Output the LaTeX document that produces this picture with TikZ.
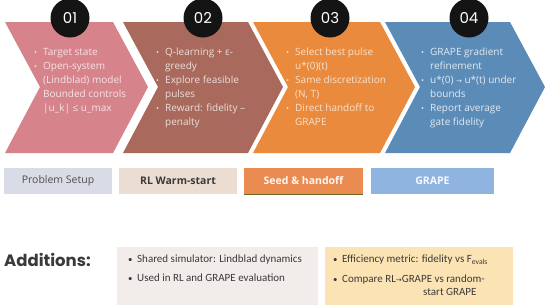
\documentclass[tikz,border=0pt]{standalone}
\usepackage{fontspec}
\setmainfont{Open Sans}
\newfontfamily\headfont{Poppins}
\newfontfamily\notefont{Carlito}
\newfontfamily\arrowfont{DejaVu Sans}

\definecolor{setuppink}{HTML}{D6838C}
\definecolor{rlbrown}{HTML}{A96A5D}
\definecolor{seedorange}{HTML}{E98A3D}
\definecolor{grapeblue}{HTML}{5B8CB7}
\definecolor{tagsetup}{HTML}{D9DCE6}
\definecolor{tagrl}{HTML}{ECDDD3}
\definecolor{tagseed}{HTML}{EA8B52}
\definecolor{taggrape}{HTML}{90B4E0}
\definecolor{notegrey}{HTML}{F2EDEA}
\definecolor{noteyellow}{HTML}{FCE3B4}
\definecolor{inkgrey}{HTML}{3A3A3A}

% bullet line and continuation line
\newcommand{\bline}[1]{\makebox[9pt][l]{\scalebox{0.8}{\textbullet}}#1}
\newcommand{\contline}[1]{\hspace*{9pt}#1}

\begin{document}
\begin{tikzpicture}[x=1pt, y=-1pt,
  numdot/.style={circle, fill=black!92, minimum size=39pt, inner sep=0pt, text=white,
    font=\headfont\fontsize{15}{15}\selectfont},
  chevtext/.style={anchor=north west, align=left, inner sep=0pt,
    font=\fontsize{10}{14}\selectfont},
  tagbox/.style={minimum width=#1, minimum height=26pt, inner sep=0pt,
    font=\fontsize{10.5}{12}\selectfont},
  notebox/.style={anchor=north west, minimum width=#1, minimum height=58pt, inner sep=0pt},
  notetext/.style={anchor=north west, align=left, inner sep=0pt, text=inkgrey,
    font=\notefont\fontsize{11}{19}\selectfont}]
  \useasboundingbox[fill=white] (0,0) rectangle (550,308);

  % Four chevrons (stage bands)
  \fill[setuppink] (5,22) -- (113,22) -- (148,87) -- (113,153) -- (5,153) -- (40,87) -- cycle;
  \fill[rlbrown] (123,22) -- (248,22) -- (283,87) -- (248,153) -- (123,153) -- (158,87) -- cycle;
  \fill[seedorange] (253,22) -- (380,22) -- (415,87) -- (380,153) -- (253,153) -- (288,87) -- cycle;
  \fill[grapeblue] (385,22) -- (510,22) -- (545,87) -- (510,153) -- (385,153) -- (420,87) -- cycle;

  % Step numbers
  \node[numdot] (n1) at (70,18) {01};
  \node[numdot] (n2) at (203,18) {02};
  \node[numdot] (n3) at (330,18) {03};
  \node[numdot] (n4) at (469,18) {04};

  % Bullet texts on the chevrons
  \node[chevtext, text=white!78!setuppink] (t1) at (34,48)
    {\bline{Target state}\\ \bline{Open-system}\\ \contline{(Lindblad) model}\\
     \bline{Bounded controls}\\ \contline{|u\_k| ≤ u\_max}};
  \node[chevtext, text=white!78!rlbrown] (t2) at (156,48)
    {\bline{Q-learning + ε-}\\ \contline{greedy}\\ \bline{Explore feasible}\\
     \contline{pulses}\\ \bline{Reward: fidelity –}\\ \contline{penalty}};
  \node[chevtext, text=white!75!seedorange] (t3) at (286,48)
    {\bline{Select best pulse}\\ \contline{u*(0)(t)}\\ \bline{Same discretization}\\
     \contline{(N, T)}\\ \bline{Direct handoff to}\\ \contline{GRAPE}};
  \node[chevtext, text=white!82!grapeblue] (t4) at (421,48)
    {\bline{GRAPE gradient}\\ \contline{refinement}\\
     \bline{u*(0) {\arrowfont\scriptsize →} u*(t) under}\\ \contline{bounds}\\
     \bline{Report average}\\ \contline{gate fidelity}};

  % Stage tags
  \node[tagbox=108pt, fill=tagsetup, text=inkgrey!90] (g1) at (58,181) {Problem Setup};
  \node[tagbox=118pt, fill=tagrl, text=inkgrey, font=\fontsize{10.5}{12}\selectfont\bfseries] (g2) at (178,181) {RL Warm-start};
  \node[tagbox=119pt, fill=tagseed, text=white!92!tagseed, font=\fontsize{10.5}{12}\selectfont\bfseries] (g3) at (303.5,181) {Seed \& handoff};
  \node[tagbox=123pt, fill=taggrape, text=white!92!taggrape, font=\fontsize{10.5}{12}\selectfont\bfseries] (g4) at (432.5,181) {GRAPE};
  \draw[olive!70!black, line width=0.6pt] (g3.south west) -- (g3.south east);

  % Additions
  \node[anchor=west, inner sep=0pt, text=inkgrey, font=\headfont\fontsize{16.5}{18}\selectfont\bfseries] (add) at (4,260) {Additions:};
  \node[notebox=201pt, fill=notegrey] (b1) at (117,247) {};
  \node[notebox=188pt, fill=noteyellow] (b2) at (325,247) {};
  \node[notetext] (s1) at (128,255)
    {\bline{Shared simulator: Lindblad dynamics}\\ \bline{Used in RL and GRAPE evaluation}};
  \node[notetext, font=\notefont\fontsize{11}{13.5}\selectfont] (s2) at (333,255)
    {\bline{Efficiency metric: fidelity vs F\textsubscript{evals}}\\[6pt]
     \bline{Compare RL{\arrowfont\scriptsize →}GRAPE vs random-}\\ \hspace*{90pt}start GRAPE};
\end{tikzpicture}
\end{document}
